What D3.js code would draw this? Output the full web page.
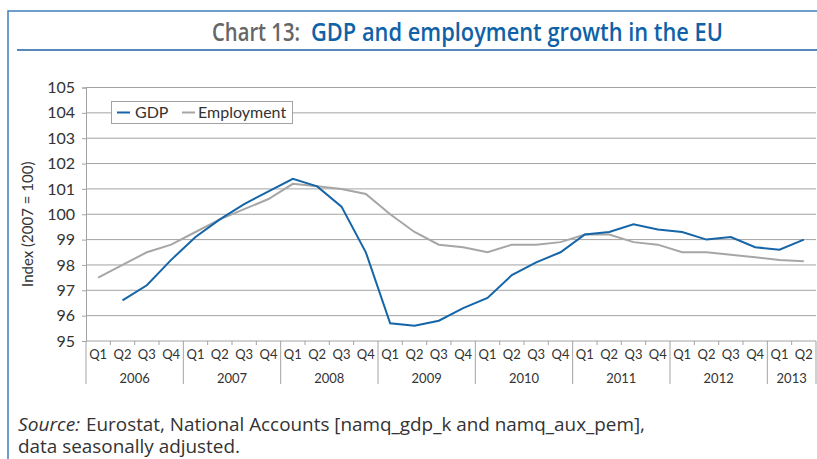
<!DOCTYPE html>
<html><head><meta charset="utf-8">
<script src="https://cdn.jsdelivr.net/npm/d3@7"></script>
<style>
body{margin:0;background:#fff;}
svg{display:block;}
</style></head>
<body>
<svg id="c" width="817" height="459"></svg>
<script>
const quarters = ["Q1","Q2","Q3","Q4","Q1","Q2","Q3","Q4","Q1","Q2","Q3","Q4","Q1","Q2","Q3","Q4","Q1","Q2","Q3","Q4","Q1","Q2","Q3","Q4","Q1","Q2","Q3","Q4","Q1","Q2"];
const years = ["2006","2007","2008","2009","2010","2011","2012","2013"];
const gdp = [null,96.6,97.2,98.2,99.1,99.8,100.4,100.9,101.4,101.1,100.3,98.5,95.7,95.6,95.8,96.3,96.7,97.6,98.1,98.5,99.2,99.3,99.6,99.4,99.3,99.0,99.1,98.7,98.6,99.0];
const employment = [97.5,98.0,98.5,98.8,99.3,99.8,100.2,100.6,101.2,101.1,101.0,100.8,100.0,99.3,98.8,98.7,98.5,98.8,98.8,98.9,99.2,99.2,98.9,98.8,98.5,98.5,98.4,98.3,98.2,98.15];
const yTicks = [95,96,97,98,99,100,101,102,103,104,105];

const svg = d3.select("#c");
const font = "Lato, 'Open Sans', sans-serif";
const L = 86, R = 816, T = 87.5, B = 341;

// frame
svg.append("path").attr("d","M8,459 V11 H817").attr("fill","none").attr("stroke","#3f7fbd").attr("stroke-width",1.5);
svg.append("line").attr("x1",17).attr("x2",817).attr("y1",50).attr("y2",50).attr("stroke","#1f63a6").attr("stroke-width",1.5);

// title
svg.append("text").attr("x",212).attr("y",41)
  .attr("font-family","'Open Sans', sans-serif").attr("font-weight",600).attr("font-size",25)
  .attr("fill","#666666").attr("textLength",88).attr("lengthAdjust","spacingAndGlyphs").text("Chart 13:");
svg.append("text").attr("x",311).attr("y",41)
  .attr("font-family","'Open Sans', sans-serif").attr("font-weight",600).attr("font-size",25)
  .attr("fill","#0f62a8").attr("textLength",412).attr("lengthAdjust","spacingAndGlyphs")
  .text("GDP and employment growth in the EU");

const x = d3.scaleBand().domain(d3.range(quarters.length)).range([L,R]);
const y = d3.scaleLinear().domain([95,105]).range([B,T]);

// gridlines
svg.append("g").selectAll("line").data(yTicks.filter(v=>v>95)).join("line")
  .attr("x1",L).attr("x2",R).attr("y1",d=>y(d)).attr("y2",d=>y(d))
  .attr("stroke","#a3a3a3").attr("stroke-width",1);

// y axis
const ya = svg.append("g").attr("transform",`translate(${L},0)`)
  .call(d3.axisLeft(y).tickValues(yTicks).tickSize(4).tickPadding(7).tickFormat(d3.format("d")));
ya.select(".domain").attr("stroke","#a3a3a3");
ya.selectAll(".tick line").attr("stroke","#a3a3a3");
ya.selectAll("text").attr("font-family",font).attr("font-size",16).attr("fill","#333");

svg.append("text").attr("transform",`translate(33,${(T+B)/2+10}) rotate(-90)`)
  .attr("text-anchor","middle").attr("font-family",font).attr("font-size",15).attr("fill","#333")
  .text("Index (2007 = 100)");

// x axis
svg.append("line").attr("x1",L).attr("x2",R).attr("y1",B).attr("y2",B).attr("stroke","#a3a3a3");
const bw = x.bandwidth();
svg.append("g").selectAll("line").data(d3.range(1,quarters.length).filter(i=>i%4!==0)).join("line")
  .attr("x1",i=>x(i)).attr("x2",i=>x(i)).attr("y1",B).attr("y2",B+4).attr("stroke","#a3a3a3");
const seps = d3.range(0,quarters.length,4).concat([quarters.length]);
svg.append("g").selectAll("line").data(seps).join("line")
  .attr("x1",i=>i<quarters.length?x(i):R).attr("x2",i=>i<quarters.length?x(i):R)
  .attr("y1",B).attr("y2",384).attr("stroke","#a3a3a3");
svg.append("g").selectAll("text").data(quarters).join("text")
  .attr("x",(d,i)=>x(i)+bw/2).attr("y",359).attr("text-anchor","middle")
  .attr("font-family",font).attr("font-size",13).attr("fill","#333").text(d=>d);
svg.append("g").selectAll("text").data(years).join("text")
  .attr("x",(d,i)=>{const s=i*4, e=Math.min(s+4,quarters.length); return (x(s)+ (e<quarters.length?x(e):R))/2;})
  .attr("y",383).attr("text-anchor","middle")
  .attr("font-family",font).attr("font-size",13).attr("fill","#333").text(d=>d);

// lines
const line = d3.line().defined(d=>d!=null).x((d,i)=>x(i)+bw/2).y(d=>y(d));
svg.append("path").datum(employment).attr("d",line).attr("fill","none").attr("stroke","#a6a6a6").attr("stroke-width",2);
svg.append("path").datum(gdp).attr("d",line).attr("fill","none").attr("stroke","#1565a8").attr("stroke-width",2);

// legend
const lg = svg.append("g");
lg.append("rect").attr("x",111.5).attr("y",101.5).attr("width",181).attr("height",22)
  .attr("fill","#fff").attr("stroke","#a3a3a3");
lg.append("line").attr("x1",117).attr("x2",130).attr("y1",112.5).attr("y2",112.5).attr("stroke","#1565a8").attr("stroke-width",2);
lg.append("text").attr("x",135).attr("y",118).attr("font-family",font).attr("font-size",16).attr("fill","#333").text("GDP");
lg.append("line").attr("x1",182).attr("x2",195).attr("y1",112.5).attr("y2",112.5).attr("stroke","#a6a6a6").attr("stroke-width",2);
lg.append("text").attr("x",198).attr("y",118).attr("font-family",font).attr("font-size",16).attr("fill","#333").text("Employment");

// source
svg.append("text").attr("x",18).attr("y",431).attr("font-family","'Open Sans', sans-serif").attr("font-size",18).attr("fill","#333")
  .attr("font-style","italic").attr("textLength",62).attr("lengthAdjust","spacingAndGlyphs").text("Source:");
svg.append("text").attr("x",86).attr("y",431).attr("font-family","'Open Sans', sans-serif").attr("font-size",18).attr("fill","#333")
  .attr("textLength",559).attr("lengthAdjust","spacingAndGlyphs")
  .text("Eurostat, National Accounts [namq_gdp_k and namq_aux_pem],");
svg.append("text").attr("x",18).attr("y",453).attr("font-family","'Open Sans', sans-serif").attr("font-size",18).attr("fill","#333")
  .attr("textLength",222).attr("lengthAdjust","spacingAndGlyphs")
  .text("data seasonally adjusted.");
</script>
</body></html>
